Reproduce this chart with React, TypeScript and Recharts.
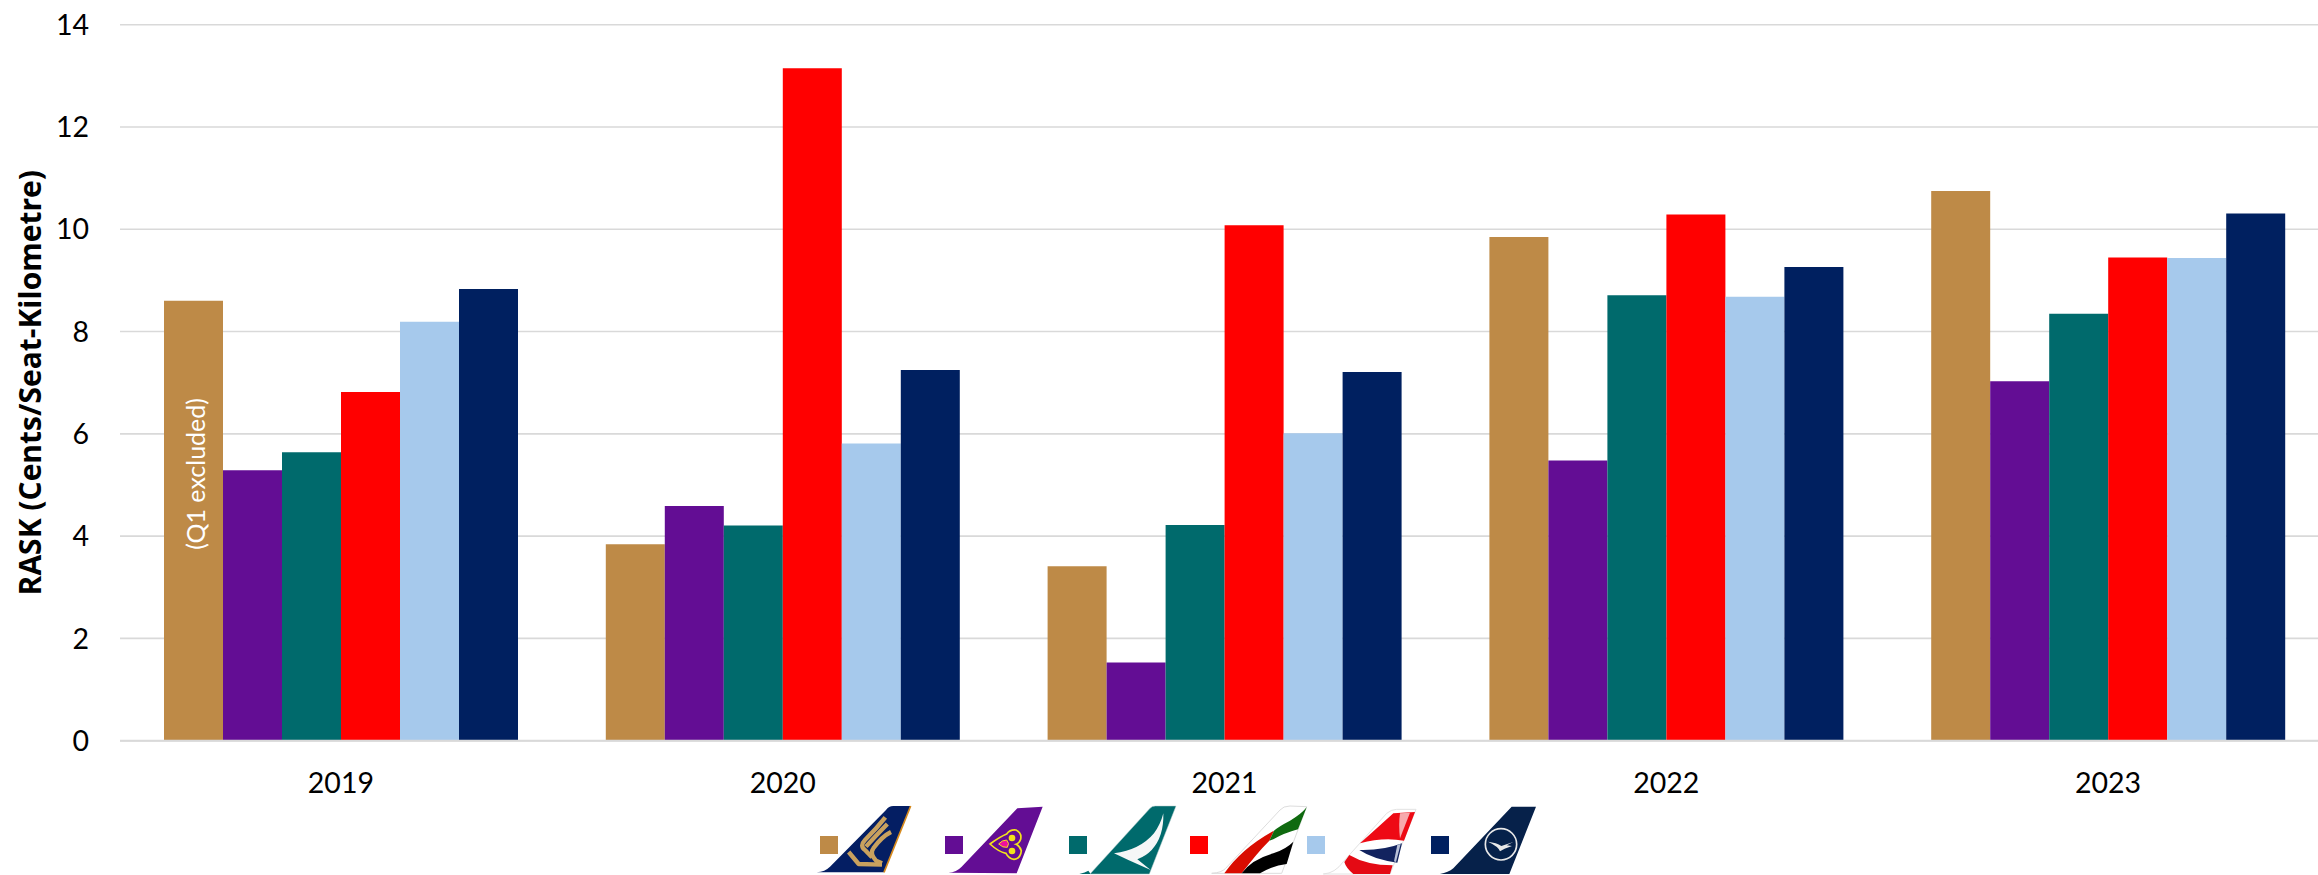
import React from 'react';
import { BarChart, Bar, XAxis, YAxis, CartesianGrid, Legend, LabelList } from 'recharts';

const years = ['2019', '2020', '2021', '2022', '2023'];
const yTicks = [0, 2, 4, 6, 8, 10, 12, 14];

const singapore = [8.6, 3.84, 3.41, 9.85, 10.75];
const thai = [5.29, 4.59, 1.53, 5.48, 7.03];
const cathay = [5.64, 4.21, 4.22, 8.71, 8.35];
const emirates = [6.82, 13.15, 10.08, 10.29, 9.45];
const british = [8.19, 5.81, 6.01, 8.68, 9.44];
const lufthansa = [8.83, 7.25, 7.21, 9.26, 10.31];

const data = years.map((year, i) => ({
  year,
  singapore: singapore[i],
  thai: thai[i],
  cathay: cathay[i],
  emirates: emirates[i],
  british: british[i],
  lufthansa: lufthansa[i],
}));

const FONT = 'Lato, sans-serif';

// tail fins are sketched at 3x and scaled down in the legend
const SingaporeTail = () => (
  <g>
    <path d="M20 217 Q45 215 60 200 L228 30 Q236 18 250 18 L302 18 L222 217 Z" fill="#041E63" />
    <path d="M302 18 L222 217" stroke="#D68A1E" strokeWidth={5} fill="none" />
    <g stroke="#C9A15E" strokeWidth={13} fill="none" strokeLinejoin="round">
      <path d="M226 52 Q200 85 165 120 Q148 138 165 150 L186 172" />
      <path d="M232 72 Q190 115 168 140" />
      <path d="M243 96 Q215 110 190 145 Q178 160 198 182 L216 190" />
      <path d="M116 156 L146 192 L216 194" />
    </g>
  </g>
);

const ThaiTail = () => (
  <g>
    <path d="M415 218 Q440 216 455 200 L622 25 L698 20 L620 220 Z" fill="#630D94" />
    <path d="M540 132 Q570 110 590 102 Q600 88 618 90 Q636 98 632 118 Q628 130 618 133 Q630 138 634 152 Q632 176 612 178 Q596 176 588 160 Q565 155 540 132 Z" fill="#630D94" stroke="#F2E31B" strokeWidth={5} />
    <path d="M566 132 Q576 120 590 120 Q600 130 592 142 Q578 144 566 132 Z" fill="#F0109E" stroke="#F2E31B" strokeWidth={3} />
    <circle cx={606} cy={114} r={10} fill="#F2E31B" />
    <circle cx={606} cy={153} r={10} fill="#F2E31B" />
  </g>
);

const CathayTail = () => (
  <g>
    <path d="M58 222 Q76 218 85 212 L92 222 Z" fill="#006A6C" />
    <path d="M90 222 L270 25 Q276 18 286 18 L348 18 L268 222 Z" fill="#006A6C" stroke="#B9CFCF" strokeWidth={1.5} />
    <path d="M162 160 Q240 150 282 100 Q302 72 310 40 Q312 110 275 150 Q258 168 232 178 L272 210 L205 180 Z" fill="#F5F7F7" />
  </g>
);

const EmiratesTail = () => (
  <g>
    <path d="M455 220 Q485 218 497 205 L660 30 Q670 18 690 18 L740 20 L665 220 Z" fill="#fff" stroke="#DDDDDD" strokeWidth={3} />
    <path d="M493 220 Q545 145 642 92 L628 122 Q590 160 545 220 Z" fill="#D90C00" />
    <path d="M740 22 Q722 60 688 76 Q650 96 628 122 L642 92 Q655 80 690 62 Q722 44 740 22 Z M740 22 L714 88 Q670 100 640 118 L628 122 Q650 96 688 76 Q722 60 740 22 Z" fill="#0F6A10" />
    <path d="M545 220 Q575 178 640 160 Q680 146 700 125 L680 192 Q640 196 600 220 Z" fill="#000" />
  </g>
);

const BritishTail = () => (
  <g>
    <path d="M40 222 Q75 220 100 185 L230 40 Q245 28 260 28 L318 28 L240 222 Z" fill="#fff" stroke="#E2E2E2" strokeWidth={3} />
    <path d="M150 130 Q195 90 250 40 L315 36 L282 122 Q220 110 150 130 Z" fill="#EE0A14" />
    <path d="M270 40 L300 38 L270 115 Q265 75 270 40 Z" fill="#F7A9AC" />
    <path d="M148 150 Q220 152 276 130 L262 188 Q190 178 148 150 Z" fill="#12235F" />
    <path d="M262 134 L272 132 L258 186 L252 184 Z" fill="#B9C1D8" />
    <path d="M118 165 Q170 196 248 196 L240 222 L130 222 Q108 204 103 186 Z" fill="#E40A14" />
  </g>
);

const LufthansaTail = () => (
  <g>
    <path d="M390 222 Q415 218 430 205 L605 20 L678 20 L598 222 Z" fill="#06214A" />
    <circle cx={573} cy={133} r={47} fill="none" stroke="#E8E8E8" strokeWidth={5} />
    <path d="M534 125 Q560 128 574 138 L610 126 L590 136 L606 138 L584 146 L570 154 Q566 140 534 125 Z" fill="#E8E8E8" />
  </g>
);

const tails = [SingaporeTail, ThaiTail, CathayTail, EmiratesTail, BritishTail, LufthansaTail];
const tailOrigins = [[810, 800], [810, 800], [1060, 800], [1060, 800], [1310, 800], [1310, 800]];
const swatchLefts = [820, 945, 1069, 1190, 1307, 1431];

// swatches come from the series colours, each followed by its airline's fin
const TailLegend = ({ payload }: any) => (
  <svg width={2318} height={875} style={{ display: 'block', pointerEvents: 'none' }}>
    {(payload || []).map((entry: any, i: number) => {
      const Tail = tails[i];
      return (
        <g key={entry.value}>
          <g transform={`translate(${tailOrigins[i][0]} ${tailOrigins[i][1]}) scale(${1 / 3})`}>
            <Tail />
          </g>
          <rect x={swatchLefts[i]} y={836} width={18} height={18} fill={entry.color} />
        </g>
      );
    })}
  </svg>
);

// note inside the first gold bar, rotated to read bottom-up
const Q1Note = ({ x, y, width, index }: any) => {
  if (index !== 0) return null;
  const cx = x + width / 2 + 2;
  const cy = y + 173;
  return (
    <text
      x={cx}
      y={cy}
      transform={`rotate(-90 ${cx} ${cy})`}
      textAnchor="middle"
      dominantBaseline="central"
      fill="#FFFFFF"
      fontFamily={FONT}
      fontSize={25}
    >
      (Q1 excluded)
    </text>
  );
};

export default function App() {
  return (
    <div style={{ position: 'absolute', left: 0, top: 0, width: 2318, height: 875, overflow: 'hidden', background: '#fff' }}>
      <BarChart
        width={2329}
        height={875}
        data={data}
        barSize={59}
        barGap={0}
        margin={{ top: 24.7, right: 0, bottom: 74.3, left: 0 }}
      >
        <CartesianGrid horizontal vertical={false} stroke="#D9D9D9" strokeWidth={1.6} />
        <XAxis
          dataKey="year"
          height={60}
          axisLine={{ stroke: '#D9D9D9', strokeWidth: 2 }}
          tickLine={false}
          tickMargin={26}
          tick={{ fontFamily: FONT, fontSize: 28.5, fill: '#000' }}
        />
        <YAxis
          width={120}
          domain={[0, 14]}
          ticks={yTicks}
          axisLine={false}
          tickLine={false}
          tickMargin={25}
          tick={{ fontFamily: FONT, fontSize: 28.5, fill: '#000' }}
          label={{
            value: 'RASK (Cents/Seat-Kilometre)',
            angle: -90,
            position: 'insideLeft',
            offset: 30,
            style: { textAnchor: 'middle', fontFamily: '"Open Sans", sans-serif', fontWeight: 700, fontSize: 30, fill: '#000' },
          }}
        />
        <Legend
          layout="horizontal"
          align="center"
          verticalAlign="middle"
          itemSorter={null}
          content={<TailLegend />}
          wrapperStyle={{ left: 0, top: 0, width: 2318, height: 875, pointerEvents: 'none' }}
        />
        <Bar dataKey="singapore" name="Singapore Airlines" fill="#BE8A47" isAnimationActive={false}>
          <LabelList dataKey="singapore" content={<Q1Note />} />
        </Bar>
        <Bar dataKey="thai" name="Thai Airways" fill="#630D94" isAnimationActive={false} />
        <Bar dataKey="cathay" name="Cathay Pacific" fill="#006A6C" isAnimationActive={false} />
        <Bar dataKey="emirates" name="Emirates" fill="#FF0000" isAnimationActive={false} />
        <Bar dataKey="british" name="British Airways" fill="#A6C9EC" isAnimationActive={false} />
        <Bar dataKey="lufthansa" name="Lufthansa" fill="#002060" isAnimationActive={false} />
      </BarChart>
    </div>
  );
}
